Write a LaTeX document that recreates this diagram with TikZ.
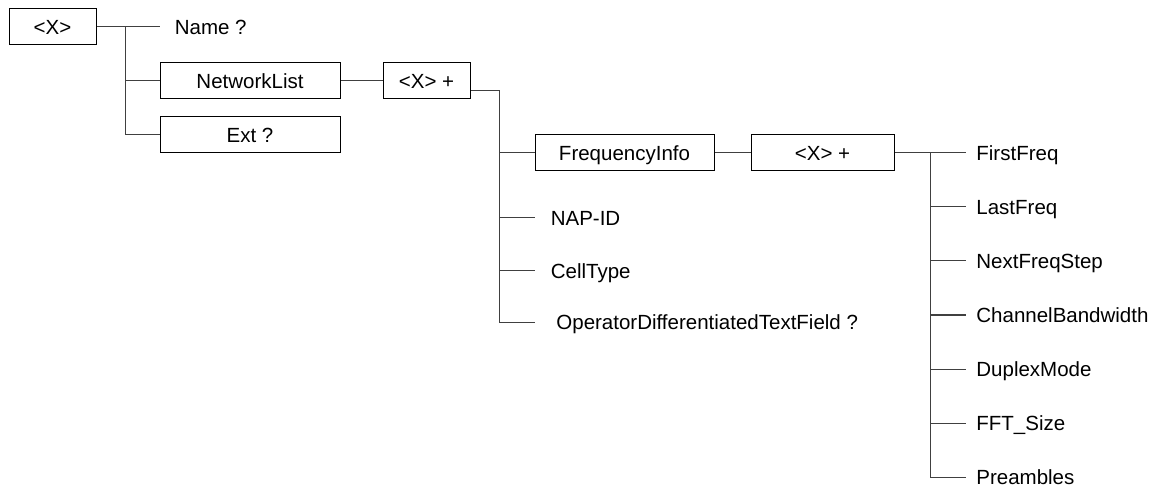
\documentclass[tikz,border=0pt]{standalone}
\usepackage{fontspec}
\setmainfont{Liberation Sans}

\begin{document}
\begin{tikzpicture}[x=0.5pt,y=-0.5pt,
		txt/.style={font=\fontsize{10.25}{12}\selectfont,text height=7.3pt,text depth=0pt},
		box/.style={txt,draw,line width=0.5pt,minimum height=18pt,inner sep=0pt},
		leaf/.style={txt,anchor=west,inner ysep=0pt,inner xsep=#1},
		leaf/.default=5pt,
		link/.style={draw=black!75,line width=0.5pt}]
		\useasboundingbox (0,0) rectangle (1151,486);
		% boxes
		\node[box,minimum width=43.5pt] (root) at (52.5,27) {<X>};
		\node[box,minimum width=90pt] (netlist) at (250,81) {NetworkList};
		\node[box,minimum width=90pt] (ext) at (250,135) {Ext ?};
		\node[box,minimum width=43.5pt] (xa) at (426.5,81) {<X> +};
		\node[box,minimum width=89.5pt] (freq) at (624.5,153) {FrequencyInfo};
		\node[box,minimum width=71.5pt] (xb) at (822.5,153) {<X> +};
		% leaves
		\node[leaf=7.2pt] (name) at (160,27) {Name ?};
		\node[leaf=7.7pt] (nap) at (535,218) {NAP-ID};
		\node[leaf=7.7pt] (cell) at (535,271) {CellType};
		\node[leaf=10.5pt] (opdiff) at (535,322) {OperatorDifferentiatedTextField ?};
		\foreach \t [count=\i] in {FirstFreq,LastFreq,NextFreqStep,ChannelBandwidth,DuplexMode,FFT\_Size,Preambles}
		{
			\node[leaf] (r\i) at (966, 153 + \i*54 - 54) {\t};
		}
		% joints
		\coordinate (ja) at (125,27);
		\coordinate (jbout) at ([yshift=-5pt]xa.east);
		\coordinate (jb) at (499,91);
		\coordinate (jc) at (930,153);
		% links
		\draw[link] (root.east) -- (name.west);
		\draw[link] (ja) |- (netlist.west);
		\draw[link] (ja) |- (ext.west);
		\draw[link] (netlist.east) -- (xa.west);
		\draw[link] (jbout) -- (jb) |- (freq.west);
		\foreach \n in {nap,cell,opdiff}
		{
			\draw[link] (jb) |- (\n.west);
		}
		\draw[link] (freq.east) -- (xb.west);
		\draw[link] (xb.east) -- (r1.west);
		\foreach \i in {2,3,...,7}
		{
			\draw[link] (jc) |- (r\i.west);
		}
	\end{tikzpicture}
\end{document}
